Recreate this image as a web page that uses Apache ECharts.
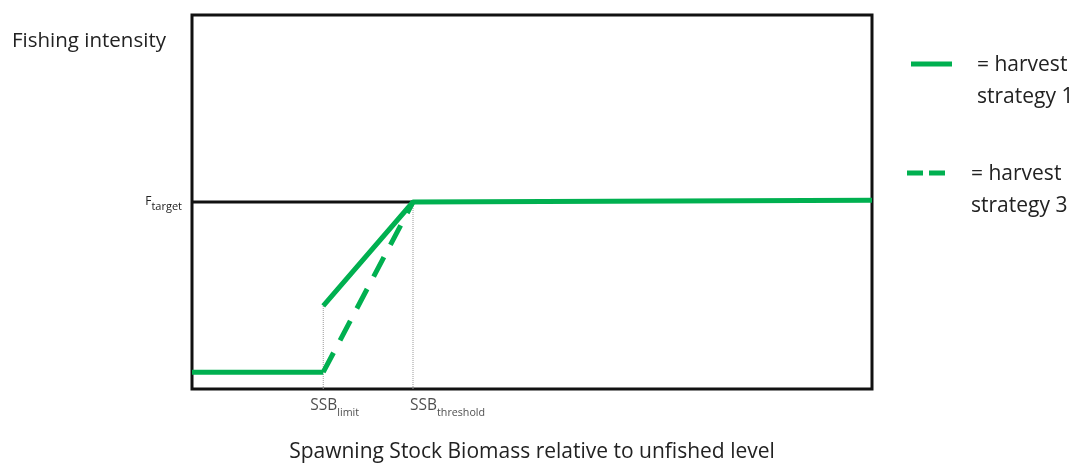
<!DOCTYPE html>
<html><head><meta charset="utf-8">
<script src="https://cdn.jsdelivr.net/npm/echarts@6/dist/echarts.min.js"></script>
<style>html,body{margin:0;padding:0;background:#fff}#c{width:1074px;height:463px}</style>
</head><body><div id="c"></div>
<script>
// Reference points (x: fraction of axis, y: fraction of axis)
const xLimit = 0.193;
const xThreshold = 0.325;
const fTarget = 0.5;
const fLow = 0.045;
const fJump = 0.222;
const fEnd = 0.505;
const strategy1Low = [[0, fLow], [xLimit, fLow]];
const strategy1High = [[xLimit, fJump], [xThreshold, fTarget], [1, fEnd]];
const strategy3 = [[xLimit, fLow], [xThreshold, fTarget]];
const targetLine = [[0, fTarget], [xThreshold, fTarget]];
const limitGuide = [[xLimit, 0], [xLimit, fJump]];
const thresholdGuide = [[xThreshold, 0], [xThreshold, fTarget]];
const xTickLabels = [["SSB", "limit"], ["SSB", "threshold"]];
const yTickLabel = ["F", "target"];
const legendLabels = ["= harvest\nstrategy 1", "= harvest\nstrategy 3"];
const yTitle = "Fishing intensity";
const xTitle = "Spawning Stock Biomass relative to unfished level";

// styling (pixel offsets for tick labels)
const tickLabelOffsets = [[-13, 4], [-3, 4]];
const green = '#00B050';
const font = 'Open Sans';
const txt = '#222';
const chart = echarts.init(document.getElementById('c'));
chart.setOption({
  animation: false,
  textStyle: { fontFamily: font },
  grid: { left: 192, right: 202, top: 15, bottom: 74, outerBoundsMode: 'none', containLabel: false, show: true, borderColor: '#111', borderWidth: 3, backgroundColor: 'transparent' },
  xAxis: {
    type: 'value', min: 0, max: 1,
    axisLine: { show: false }, axisTick: { show: false }, splitLine: { show: false }, axisLabel: { show: false },
    name: xTitle, nameLocation: 'middle', nameGap: 53,
    nameTextStyle: { fontFamily: font, fontSize: 21, color: txt }
  },
  yAxis: {
    type: 'value', min: 0, max: 1, interval: 0.5,
    axisLine: { show: false }, axisTick: { show: false }, splitLine: { show: false },
    axisLabel: {
      margin: 10,
      formatter: v => Math.abs(v - fTarget) < 1e-9 ? '{f|' + yTickLabel[0] + '}{s|' + yTickLabel[1] + '}' : '',
      rich: {
        f: { fontFamily: font, fontSize: 12, color: txt, verticalAlign: 'bottom' },
        s: { fontFamily: font, fontSize: 11, color: txt, verticalAlign: 'bottom', padding: [0, 0, -4, 0] }
      }
    }
  },
  graphic: [
    { type: 'text', left: 12, top: 31, style: { text: yTitle, fontFamily: font, fontSize: 20.5, fill: txt } },
    { type: 'line', shape: { x1: 911, y1: 64, x2: 952, y2: 64 }, style: { stroke: green, lineWidth: 5 } },
    { type: 'text', left: 977, top: 49, style: { text: legendLabels[0], fontFamily: font, fontSize: 21, lineHeight: 32, fill: txt } },
    { type: 'line', shape: { x1: 907, y1: 173, x2: 948, y2: 173 }, style: { stroke: green, lineWidth: 5, lineDash: [16, 6] } },
    { type: 'text', left: 971, top: 158, style: { text: legendLabels[1], fontFamily: font, fontSize: 21, lineHeight: 32, fill: txt } }
  ],
  series: [
    { type: 'line', data: limitGuide, symbol: 'none', lineStyle: { color: '#999', width: 1, type: 'dotted' }, silent: true },
    { type: 'line', data: thresholdGuide, symbol: 'none', lineStyle: { color: '#999', width: 1, type: 'dotted' }, silent: true },
    { type: 'line', data: targetLine, symbol: 'none', lineStyle: { color: '#111', width: 3 }, silent: true },
    { type: 'line', data: strategy3, symbol: 'none', lineStyle: { color: green, width: 5, type: [22, 14] }, silent: true },
    { type: 'line', data: strategy1Low, symbol: 'none', lineStyle: { color: green, width: 5 }, silent: true },
    { type: 'line', data: strategy1High, symbol: 'none', lineStyle: { color: green, width: 5 }, silent: true },
    {
      type: 'scatter', symbolSize: 0, silent: true, clip: false,
      data: [[xLimit, 0], [xThreshold, 0]].map((p, i) => ({
        value: p,
        label: {
          show: true, position: 'bottom', align: 'left', offset: tickLabelOffsets[i],
          formatter: '{a|' + xTickLabels[i][0] + '}{b|' + xTickLabels[i][1] + '}',
          rich: {
            a: { fontFamily: font, fontSize: 15.5, color: txt, verticalAlign: 'bottom' },
            b: { fontFamily: font, fontSize: 10.7, color: txt, verticalAlign: 'bottom', padding: [0, 0, -4, 0] }
          }
        }
      }))
    }
  ]
});
</script></body></html>
